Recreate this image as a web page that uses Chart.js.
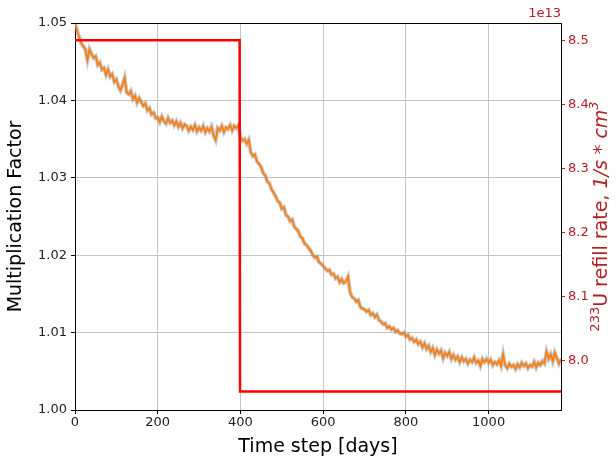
<!DOCTYPE html>
<html>
<head>
<meta charset="utf-8">
<script src="https://cdn.jsdelivr.net/npm/chart.js@4.4.1/dist/chart.umd.min.js"></script>
<style>
  html, body { margin: 0; padding: 0; background: #fff; }
  #kChart { display: block; }
</style>
</head>
<body>
<canvas id="kChart" width="616" height="458"></canvas>
<script>
// time steps [days] for the multiplication factor
const days = [
  0, 5, 10, 15, 20, 25, 30, 35, 40, 45,
  50, 55, 60, 65, 70, 75, 80, 85, 90, 95,
  100, 105, 110, 115, 120, 125, 130, 135, 140, 145,
  150, 155, 160, 165, 170, 175, 180, 185, 190, 195,
  200, 205, 210, 215, 220, 225, 230, 235, 240, 245,
  250, 255, 260, 265, 270, 275, 280, 285, 290, 295,
  300, 305, 310, 315, 320, 325, 330, 335, 340, 345,
  350, 355, 360, 365, 370, 375, 380, 385, 390, 395,
  400, 405, 410, 415, 420, 425, 430, 435, 440, 445,
  450, 455, 460, 465, 470, 475, 480, 485, 490, 495,
  500, 505, 510, 515, 520, 525, 530, 535, 540, 545,
  550, 555, 560, 565, 570, 575, 580, 585, 590, 595,
  600, 605, 610, 615, 620, 625, 630, 635, 640, 645,
  650, 655, 660, 665, 670, 675, 680, 685, 690, 695,
  700, 705, 710, 715, 720, 725, 730, 735, 740, 745,
  750, 755, 760, 765, 770, 775, 780, 785, 790, 795,
  800, 805, 810, 815, 820, 825, 830, 835, 840, 845,
  850, 855, 860, 865, 870, 875, 880, 885, 890, 895,
  900, 905, 910, 915, 920, 925, 930, 935, 940, 945,
  950, 955, 960, 965, 970, 975, 980, 985, 990, 995,
  1000, 1005, 1010, 1015, 1020, 1025, 1030, 1035, 1040, 1045,
  1050, 1055, 1060, 1065, 1070, 1075, 1080, 1085, 1090, 1095,
  1100, 1105, 1110, 1115, 1120, 1125, 1130, 1135, 1140, 1145,
  1150, 1155, 1160, 1165, 1170, 1175
];
const kFactor = [
  1.0500, 1.0490, 1.0482, 1.0474, 1.0470, 1.0466, 1.0452, 1.0466, 1.0460, 1.0455,
  1.0457, 1.0446, 1.0449, 1.0440, 1.0442, 1.0433, 1.0440, 1.0431, 1.0434, 1.0424,
  1.0427, 1.0418, 1.0413, 1.0420, 1.0429, 1.0410, 1.0408, 1.0412, 1.0402, 1.0406,
  1.0397, 1.0403, 1.0398, 1.0393, 1.0396, 1.0387, 1.0390, 1.0382, 1.0384, 1.0377,
  1.0378, 1.0372, 1.0379, 1.0373, 1.0370, 1.0377, 1.0371, 1.0374, 1.0368, 1.0373,
  1.0366, 1.0371, 1.0364, 1.0369, 1.0367, 1.0361, 1.0366, 1.0362, 1.0368, 1.0360,
  1.0365, 1.0361, 1.0367, 1.0359, 1.0364, 1.0360, 1.0366, 1.0355, 1.0349, 1.0364,
  1.0361, 1.0367, 1.0359, 1.0365, 1.0363, 1.0368, 1.0361, 1.0367, 1.0364, 1.0368,
  1.0352, 1.0348, 1.0350, 1.0344, 1.0349, 1.0333, 1.0328, 1.0330, 1.0321, 1.0318,
  1.0314, 1.0306, 1.0303, 1.0295, 1.0293, 1.0285, 1.0281, 1.0276, 1.0270, 1.0268,
  1.0260, 1.0262, 1.0252, 1.0250, 1.0244, 1.0246, 1.0237, 1.0234, 1.0231, 1.0224,
  1.0222, 1.0215, 1.0213, 1.0209, 1.0206, 1.0200, 1.0197, 1.0198, 1.0191, 1.0189,
  1.0186, 1.0183, 1.0180, 1.0181, 1.0175, 1.0176, 1.0170, 1.0172, 1.0165, 1.0169,
  1.0164, 1.0166, 1.0172, 1.0152, 1.0146, 1.0144, 1.0140, 1.0142, 1.0133, 1.0131,
  1.0130, 1.0127, 1.0129, 1.0123, 1.0125, 1.0120, 1.0123, 1.0116, 1.0114, 1.0111,
  1.0112, 1.0106, 1.0108, 1.0104, 1.0106, 1.0101, 1.0103, 1.0099, 1.0098, 1.0100,
  1.0095, 1.0097, 1.0091, 1.0093, 1.0088, 1.0091, 1.0085, 1.0088, 1.0081, 1.0086,
  1.0079, 1.0083, 1.0075, 1.0080, 1.0071, 1.0078, 1.0073, 1.0077, 1.0067, 1.0074,
  1.0070, 1.0075, 1.0066, 1.0071, 1.0065, 1.0069, 1.0062, 1.0068, 1.0063, 1.0066,
  1.0060, 1.0065, 1.0062, 1.0068, 1.0061, 1.0064, 1.0057, 1.0066, 1.0062, 1.0066,
  1.0061, 1.0065, 1.0058, 1.0062, 1.0059, 1.0064, 1.0057, 1.0072, 1.0058, 1.0054,
  1.0060, 1.0056, 1.0058, 1.0053, 1.0059, 1.0055, 1.0061, 1.0057, 1.0060, 1.0054,
  1.0058, 1.0056, 1.0062, 1.0055, 1.0061, 1.0058, 1.0063, 1.0060, 1.0075, 1.0066,
  1.0072, 1.0063, 1.0074, 1.0067, 1.0060, 1.0066
];
// 233U refill rate, step change at ~400 days
const refillDays = [0, 398, 399, 1175];
const refillRate = [8.5e13, 8.5e13, 7.952e13, 7.952e13];

const xTicks = [0, 200, 400, 600, 800, 1000];
const rightTicks = [8.0e13, 8.1e13, 8.2e13, 8.3e13, 8.4e13, 8.5e13];

const RED = "#b22222";
const FONT = "'DejaVu Sans', sans-serif";

const kPoints = days.map((d, i) => ({ x: d, y: kFactor[i] }));
const refillPoints = refillDays.map((d, i) => ({ x: d, y: refillRate[i] }));

const extras = {
  id: "extras",
  afterDraw(chart) {
    const { ctx, chartArea: a } = chart;
    ctx.save();
    // top spine
    ctx.strokeStyle = "#000";
    ctx.lineWidth = 1;
    ctx.beginPath();
    ctx.moveTo(a.left, a.top + 0.5);
    ctx.lineTo(a.right, a.top + 0.5);
    ctx.stroke();
    // offset text
    ctx.fillStyle = RED;
    ctx.font = "13px " + FONT;
    ctx.textAlign = "right";
    ctx.textBaseline = "alphabetic";
    ctx.fillText("1e13", a.right, a.top - 6);
    // right axis title
    const parts = [
      { t: "233", f: "13px " + FONT, dy: -8 },
      { t: "U refill rate, ", f: "19px " + FONT, dy: 0 },
      { t: "1/s * cm", f: "italic 19px " + FONT, dy: 0 },
      { t: "3", f: "italic 13px " + FONT, dy: -9 }
    ];
    let total = 0;
    parts.forEach(p => { ctx.font = p.f; p.w = ctx.measureText(p.t).width; total += p.w; });
    ctx.translate(607, (a.top + a.bottom) / 2);
    ctx.rotate(-Math.PI / 2);
    ctx.textAlign = "left";
    ctx.textBaseline = "alphabetic";
    let x = -total / 2;
    parts.forEach(p => { ctx.font = p.f; ctx.fillText(p.t, x, p.dy); x += p.w; });
    ctx.restore();
  }
};

new Chart(document.getElementById("kChart").getContext("2d"), {
  type: "line",
  data: {
    datasets: [
      {
        label: "refill",
        data: refillPoints,
        yAxisID: "y2",
        borderColor: "#ff0000",
        borderWidth: 2.5,
        pointRadius: 0,
        tension: 0,
        order: 0
      },
      {
        label: "k",
        data: kPoints,
        yAxisID: "y",
        borderColor: "#ff7f0e",
        borderWidth: 1.8,
        pointRadius: 0,
        tension: 0,
        order: 1
      },
      {
        label: "k band",
        data: kPoints,
        yAxisID: "y",
        borderColor: "rgba(128,128,128,0.45)",
        borderWidth: 4,
        pointRadius: 0,
        tension: 0,
        order: 2
      }
    ]
  },
  options: {
    responsive: false,
    animation: false,
    devicePixelRatio: 1,
    layout: { padding: { top: 23, left: 5, right: 0, bottom: 0 } },
    plugins: { legend: { display: false }, tooltip: { enabled: false } },
    scales: {
      x: {
        type: "linear",
        min: 0,
        max: 1175,
        afterBuildTicks: s => { s.ticks = xTicks.map(v => ({ value: v })); },
        afterFit: s => { s.height = 48; },
        border: { color: "#000", width: 1 },
        grid: { color: "#c4c4c4", lineWidth: 1, tickColor: "#000", tickLength: 4 },
        ticks: { color: "#222", font: { family: FONT, size: 13 }, padding: 1, maxRotation: 0, callback: v => String(v) },
        title: { display: true, text: "Time step [days]", color: "#000", font: { family: FONT, size: 19 }, padding: { top: 0, bottom: 0 } }
      },
      y: {
        position: "left",
        min: 1.0,
        max: 1.05,
        ticks: { stepSize: 0.01, color: "#222", font: { family: FONT, size: 13 }, padding: 4, callback: v => v.toFixed(2) },
        afterFit: s => { s.width = 70; },
        border: { color: "#000", width: 1 },
        grid: { color: "#c4c4c4", lineWidth: 1, tickColor: "#000", tickLength: 4 },
        title: { display: true, text: "Multiplication Factor", color: "#000", font: { family: FONT, size: 19 }, padding: { top: 0, bottom: 2 } }
      },
      y2: {
        position: "right",
        min: 7.923e13,
        max: 8.527e13,
        afterBuildTicks: s => { s.ticks = rightTicks.map(v => ({ value: v })); },
        afterFit: s => { s.width = 55; },
        border: { color: "#000", width: 1 },
        grid: { drawOnChartArea: false, tickColor: RED, tickLength: 4 },
        ticks: { color: RED, font: { family: FONT, size: 13 }, padding: 3, callback: v => (v / 1e13).toFixed(1) }
      }
    }
  },
  plugins: [extras]
});
</script>
</body>
</html>
